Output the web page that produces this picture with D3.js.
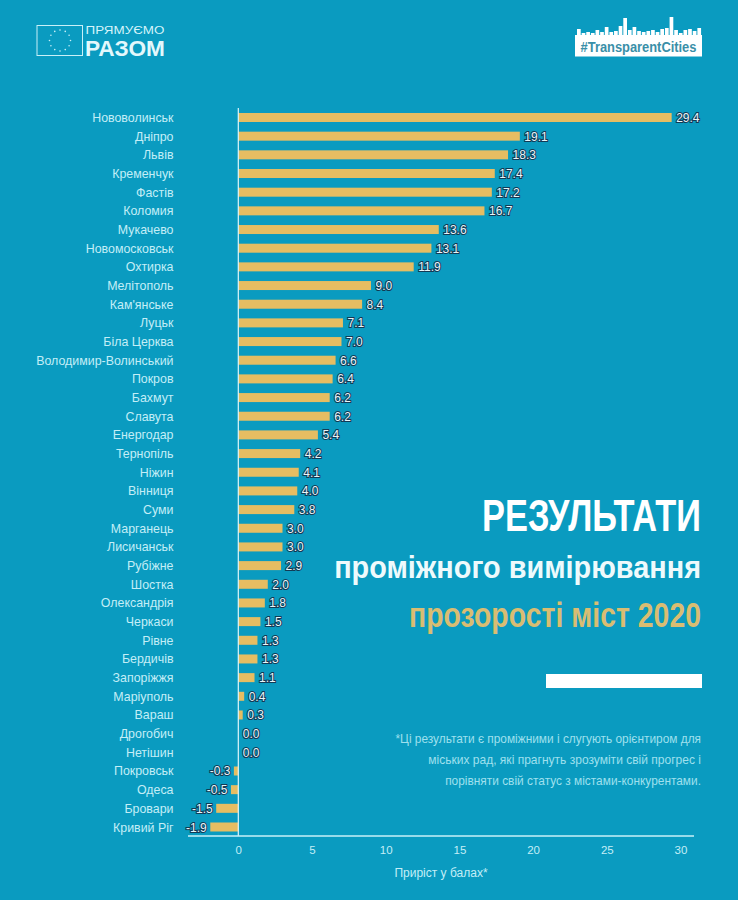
<!DOCTYPE html>
<html>
<head>
<meta charset="utf-8">
<script src="https://cdn.jsdelivr.net/npm/d3@7"></script>
<style>
  html, body { margin: 0; padding: 0; background: #0a9bc0; }
  svg { display: block; }
  text { font-family: "Liberation Sans", sans-serif; }
</style>
</head>
<body>
<div id="app"></div>
<script>
const cities = ["Нововолинськ", "Дніпро", "Львів", "Кременчук", "Фастів", "Коломия", "Мукачево", "Новомосковськ", "Охтирка", "Мелітополь", "Кам'янське", "Луцьк", "Біла Церква", "Володимир-Волинський", "Покров", "Бахмут", "Славута", "Енергодар", "Тернопіль", "Ніжин", "Вінниця", "Суми", "Марганець", "Лисичанськ", "Рубіжне", "Шостка", "Олександрія", "Черкаси", "Рівне", "Бердичів", "Запоріжжя", "Маріуполь", "Вараш", "Дрогобич", "Нетішин", "Покровськ", "Одеса", "Бровари", "Кривий Ріг"];
const growth = [29.4, 19.1, 18.3, 17.4, 17.2, 16.7, 13.6, 13.1, 11.9, 9.0, 8.4, 7.1, 7.0, 6.6, 6.4, 6.2, 6.2, 5.4, 4.2, 4.1, 4.0, 3.8, 3.0, 3.0, 2.9, 2.0, 1.8, 1.5, 1.3, 1.3, 1.1, 0.4, 0.3, 0.0, 0.0, -0.3, -0.5, -1.5, -1.9];
const xTicks = [0, 5, 10, 15, 20, 25, 30];
// силует міста в логотипі
const skyline = [7, 3, 4, 3, 6, 4, 9, 4, 5, 10, 18, 6, 9, 5, 4, 5, 6, 4, 7, 8, 19, 6, 3, 6, 7, 5, 8];
const noteLines = [
  "*Ці результати є проміжними і слугують орієнтиром для",
  "міських рад, які прагнуть зрозуміти свій прогрес і",
  "порівняти свій статус з містами-конкурентами."
];

const width = 738, height = 900;
const bg = "#0a9bc0", gold = "#e6bd62", pale = "#c4eef7", titleGold = "#d9bd72";

const svg = d3.select("#app").append("svg").attr("width", width).attr("height", height);
svg.append("rect").attr("width", width).attr("height", height).attr("fill", bg);

const x = d3.scaleLinear().domain([0, 30]).range([238.3, 680.5]);
const y = d3.scalePoint().domain(cities).range([117.5, 827]);
const barH = 9;

// бари
svg.append("g").selectAll("rect").data(cities).join("rect")
  .attr("x", (d, i) => Math.min(x(0), x(growth[i])))
  .attr("y", d => y(d) - barH / 2)
  .attr("width", (d, i) => Math.abs(x(growth[i]) - x(0)))
  .attr("height", barH)
  .attr("fill", gold);

// осі
svg.append("line").attr("x1", x(0)).attr("x2", x(0)).attr("y1", 108).attr("y2", 836)
  .attr("stroke", "#dff6fb").attr("stroke-width", 1.2);
const axis = svg.append("g").attr("transform", "translate(0,836)")
  .call(d3.axisBottom(x).tickValues(xTicks).tickSize(0).tickPadding(10));
axis.select(".domain").remove();
axis.selectAll("text").attr("fill", pale).attr("font-size", 11.5);
svg.append("line").attr("x1", 188).attr("x2", 694).attr("y1", 836).attr("y2", 836)
  .attr("stroke", "#c8f0f8").attr("stroke-width", 1.3);

// підписи міст
svg.append("g").selectAll("text").data(cities).join("text")
  .attr("x", 173.5)
  .attr("y", d => y(d) + 4.5)
  .attr("text-anchor", "end")
  .attr("fill", pale)
  .attr("font-size", 12.4)
  .text(d => d);

// значення
svg.append("g").selectAll("text").data(cities).join("text")
  .attr("x", (d, i) => growth[i] < 0 ? x(growth[i]) - 3.5 : x(growth[i]) + 4.5)
  .attr("y", d => y(d) + 4.5)
  .attr("text-anchor", (d, i) => growth[i] < 0 ? "end" : "start")
  .attr("fill", "#e8f6fa")
  .attr("stroke", "#123a55")
  .attr("stroke-width", 2)
  .attr("paint-order", "stroke")
  .attr("font-size", 12)
  .text((d, i) => growth[i].toFixed(1));

svg.append("text").attr("x", 441).attr("y", 877).attr("text-anchor", "middle")
  .attr("fill", pale).attr("font-size", 12).text("Приріст у балах*");

// вузький текст: стискаємо по ширині через scale, правий край лишається на місці
function fitText(sel, xPos, yPos, len, anchor) {
  const k = len / sel.node().getComputedTextLength();
  sel.attr("text-anchor", anchor)
    .attr("transform", `translate(${xPos},${yPos}) scale(${k},1)`);
  return sel;
}
const cond = "Roboto, sans-serif";
function titleLine(txt, yPos, size, len, fill) {
  const t = svg.append("text").attr("fill", fill).attr("font-family", cond)
    .attr("font-weight", 900).attr("font-size", size).text(txt);
  fitText(t, 701, yPos, len, "end");
}
titleLine("РЕЗУЛЬТАТИ", 531, 45, 219, "#ffffff");
titleLine("проміжного вимірювання", 578, 32, 367, "#eefafc");
titleLine("прозорості міст 2020", 627, 35, 292, titleGold);

svg.append("rect").attr("x", 546).attr("y", 674).attr("width", 156).attr("height", 14).attr("fill", "#ffffff");

const noteLen = [306, 273, 256];
noteLines.forEach((line, i) => {
  const t = svg.append("text").attr("fill", "#9fe0ee").attr("font-family", cond)
    .attr("font-size", 13).text(line);
  fitText(t, 701, 743 + i * 21, noteLen[i], "end");
});

// логотип ЄС
const logo = svg.append("g");
logo.append("rect").attr("x", 37).attr("y", 25.5).attr("width", 45.5).attr("height", 30)
  .attr("fill", "none").attr("stroke", "#c8f0f8").attr("stroke-width", 1);
logo.selectAll("circle").data(d3.range(12)).join("circle")
  .attr("cx", i => 60 + 10.5 * Math.cos(i * Math.PI / 6))
  .attr("cy", i => 40.5 + 10.5 * Math.sin(i * Math.PI / 6))
  .attr("r", 0.8).attr("fill", "#c8f0f8");
const logoTop = logo.append("text").attr("fill", "#d6f4fa")
  .attr("font-size", 11).text("ПРЯМУЄМО");
fitText(logoTop, 85.5, 34, 79, "start");
const logoBig = logo.append("text").attr("fill", "#e3f8fc")
  .attr("font-weight", 700).attr("font-size", 21.5).text("РАЗОМ");
fitText(logoBig, 85, 56, 80, "start");

// логотип TransparentCities
const sx = d3.scaleBand().domain(d3.range(skyline.length)).range([577, 702]);
svg.append("g").selectAll("rect").data(skyline).join("rect")
  .attr("x", (d, i) => sx(i)).attr("y", d => 36 - d)
  .attr("width", sx.bandwidth() * 0.8).attr("height", d => d)
  .attr("fill", "#ffffff");
svg.append("rect").attr("x", 575).attr("y", 35).attr("width", 127).attr("height", 21.5).attr("fill", "#ffffff");
const tag = svg.append("text").attr("fill", "#3a8fa8").attr("font-family", cond)
  .attr("font-weight", 700).attr("font-size", 14).text("#TransparentCities");
fitText(tag, 638.5, 51.5, 116, "middle");
</script>
</body>
</html>
